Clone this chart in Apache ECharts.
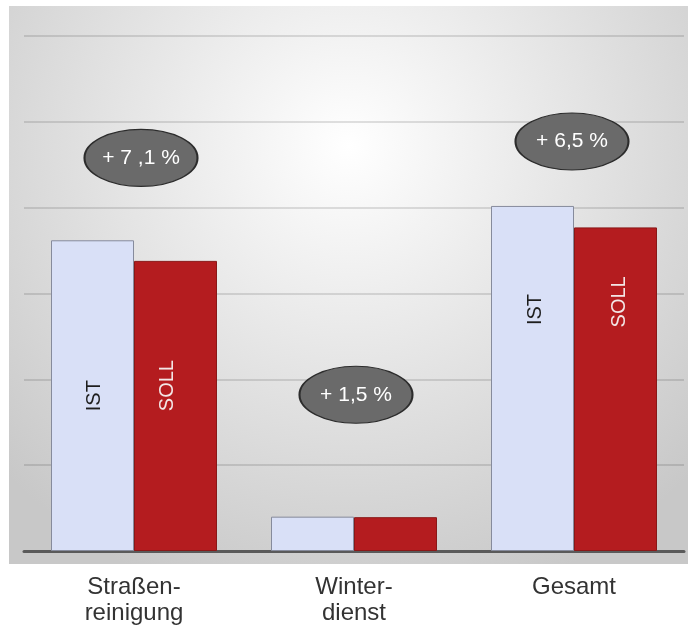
<!DOCTYPE html>
<html>
<head>
<meta charset="utf-8">
<script src="https://cdn.jsdelivr.net/npm/echarts@6/dist/echarts.min.js"></script>
<style>
  html, body { margin: 0; padding: 0; background: #ffffff; }
  #chart { width: 688px; height: 627px; }
</style>
</head>
<body>
<div id="chart"></div>
<script>
// Kostenvergleich IST / SOLL je Bereich
const categories = ['Straßen-\nreinigung', 'Winter-\ndienst', 'Gesamt'];
const istValues = [3.62, 0.40, 4.02];
const sollValues = [3.38, 0.394, 3.77];
const changeTexts = ['+ 7 ,1 %', '+ 1,5 %', '+ 6,5 %'];
const seriesNames = ['IST', 'SOLL'];

// Layout of annotations (kept apart from the values)
const bubbleLevels = [4.58, 1.82, 4.77];
const bubbleShift = [[7, 0], [2, 0], [-2, 0]];
const istLabelSpot = [['52%', '50%'], null, ['53%', '30%']];
const sollLabelSpot = [['40%', '43%'], null, ['55%', '23%']];

const ellipsePath = 'path://M0,50 A50,50 0 1,1 100,50 A50,50 0 1,1 0,50 Z';
const fontFamily = '"Liberation Sans", Arial, sans-serif';

function barData(values, spots, textColor) {
  return values.map((v, i) => ({
    value: v,
    label: spots[i]
      ? { show: true, position: spots[i], rotate: 90, align: 'center', verticalAlign: 'middle',
          formatter: '{a}', color: textColor, fontSize: 20, fontFamily: fontFamily }
      : { show: false }
  }));
}

const chart = echarts.init(document.getElementById('chart'), null, { renderer: 'canvas' });

chart.setOption({
  animation: false,
  backgroundColor: '#ffffff',
  graphic: [{
    type: 'rect',
    left: 9, top: 6,
    shape: { width: 679, height: 558 },
    style: {
      fill: {
        type: 'radial', x: 0.5, y: 0.25, r: 0.85,
        colorStops: [{ offset: 0, color: '#ffffff' }, { offset: 1, color: '#c8c8c8' }]
      }
    },
    z: -10,
    silent: true
  }],
  grid: { left: 24, right: 4, top: 36, bottom: 76 },
  xAxis: {
    type: 'category',
    data: categories,
    axisLine: { show: true, lineStyle: { color: '#5a5a5a', width: 3 } },
    axisTick: { show: false },
    axisLabel: {
      color: '#333333', fontSize: 24, lineHeight: 26, margin: 23,
      fontFamily: fontFamily, interval: 0
    },
    splitLine: { show: false }
  },
  yAxis: {
    type: 'value',
    min: 0, max: 6, interval: 1,
    axisLabel: { show: false },
    axisLine: { show: false },
    axisTick: { show: false },
    splitLine: { show: true, lineStyle: { color: 'rgba(0,0,0,0.16)', width: 1.5 } }
  },
  series: [
    {
      name: seriesNames[0],
      type: 'bar',
      barWidth: 83,
      barGap: '0%',
      data: barData(istValues, istLabelSpot, '#1e1e1e'),
      itemStyle: { color: '#d9e0f7', borderColor: '#868b9c', borderWidth: 1 }
    },
    {
      name: seriesNames[1],
      type: 'bar',
      barWidth: 83,
      barGap: '0%',
      data: barData(sollValues, sollLabelSpot, '#f3e6e6'),
      itemStyle: { color: '#b41c1f', borderColor: '#8a1717', borderWidth: 1 }
    },
    {
      name: 'Veränderung',
      type: 'scatter',
      z: 5,
      symbol: ellipsePath,
      symbolSize: [113, 57],
      data: bubbleLevels.map((lv, i) => ({ value: [i, lv], symbolOffset: bubbleShift[i] })),
      itemStyle: { color: '#6a6a6a', borderColor: '#2c2c2c', borderWidth: 1.5, opacity: 1 },
      label: {
        show: true, position: 'inside', color: '#ffffff', fontSize: 21, fontFamily: fontFamily,
        formatter: p => changeTexts[p.dataIndex]
      },
      silent: true
    }
  ]
});
</script>
</body>
</html>
